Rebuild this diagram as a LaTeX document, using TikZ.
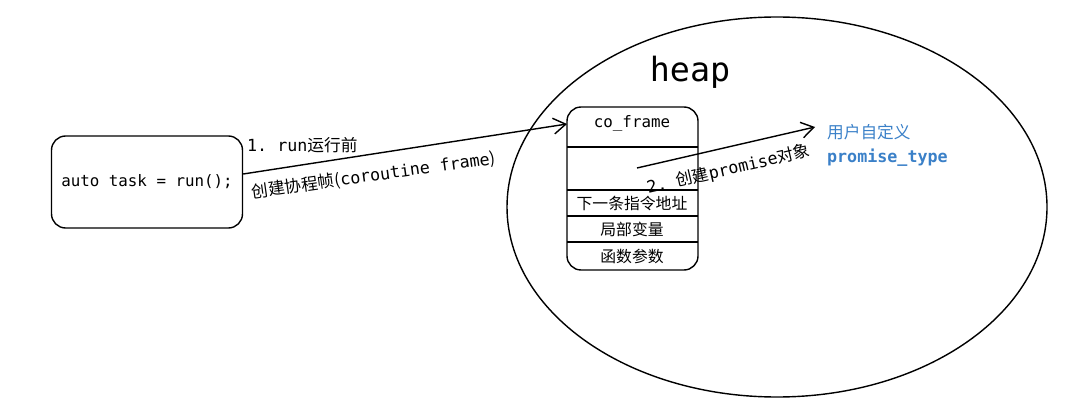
\documentclass[tikz,border=0pt]{standalone}
\usepackage{fontspec}
\setmainfont{Noto Sans CJK SC}
\setmonofont{DejaVu Sans Mono}
\usetikzlibrary{positioning,arrows.meta}
\definecolor{userblue}{HTML}{3A80C8}
\tikzset{
  box/.style={draw,thick,rounded corners=8pt},
  row/.style={minimum width=2.62cm,minimum height=0.52cm,inner sep=0pt,font=\fontsize{9}{11}\selectfont},
  lbl/.style={font=\fontsize{9.5}{11}\selectfont,inner sep=1pt},
  arr/.style={thick,-{Straight Barb[length=7pt,width=9pt]}}
}
\begin{document}
\begin{tikzpicture}[x=0.02cm,y=-0.02cm]
  \useasboundingbox (0,0) rectangle (1087,415);
  % heap
  \draw[thick] (777,207) ellipse [x radius=270, y radius=190];
  \node[font=\ttfamily\fontsize{19}{22}\selectfont] (heap) at (690,72) {heap};
  % caller
  \node[box,minimum width=3.82cm,minimum height=1.84cm,font=\ttfamily\fontsize{9}{10}\selectfont] (task) at (147,182) {auto task = run();};
  % frame
  \draw[box] (567,107) rectangle (698,270);
  \node[row] (frame) at (632,123) {\ttfamily co\_frame};
  \draw[thick] (567,147) -- (698,147) (567,190) -- (698,190) (567,216) -- (698,216) (567,242) -- (698,242);
  \node[row] (next) at (632,203) {下一条指令地址};
  \node[row] (local) [below=0pt of next] {局部变量};
  \node[row] (args) [below=0pt of local] {函数参数};
  \coordinate (fin) at (567,124);
  \coordinate (pstart) at (637,168);
  \coordinate (pend) at (815,127);
  \draw[arr] (task.east) ++(0,-8) coordinate (tout) -- (fin);
  \node[lbl,anchor=south west] (l1) at (245,155) {\ttfamily 1. run{\rmfamily 运行前}};
  \node[lbl,anchor=west,rotate=8] (l2) at (250,193) {创建协程帧(\ttfamily coroutine frame\rmfamily)};
  \draw[arr] (pstart) -- (pend);
  \node[lbl,anchor=west,rotate=13] (l3) at (645,189) {\ttfamily 2. {\rmfamily 创建}promise{\rmfamily 对象}};
  \node[lbl,anchor=north west,align=left,text=userblue] (user) at (825,122) {用户自定义\\[3pt]\ttfamily\bfseries promise\_type};
\end{tikzpicture}
\end{document}
